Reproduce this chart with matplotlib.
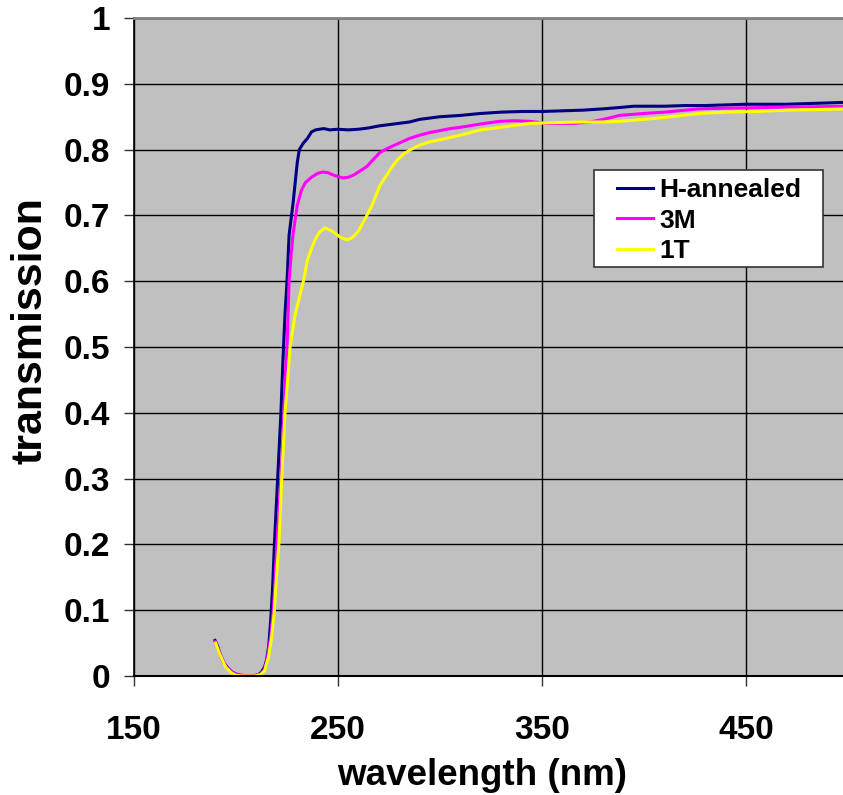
import matplotlib
matplotlib.use("Agg")
import matplotlib.pyplot as plt
from matplotlib.patches import Rectangle

plt.rcParams['font.family'] = ['Liberation Sans', 'DejaVu Sans']
plt.rcParams['font.weight'] = 'bold'

# transmission spectra (wavelength in nm)
h_wl = [189.7, 191, 192.5, 194, 196, 198, 200, 202, 205, 208, 211, 212.5, 214, 215,
        216, 217, 218, 218.8, 219.6, 220.4, 221.2, 222, 223, 224, 225, 226, 228, 230,
        231, 233, 235, 237, 239, 241, 243, 246, 250, 255, 260, 265, 270, 275, 280, 285,
        290, 295, 300, 310, 320, 330, 340, 350, 360, 370, 380, 388, 395, 400, 410, 420,
        430, 440, 450, 460, 470, 480, 490, 500]
h_tr = [0.054, 0.045, 0.030, 0.020, 0.012, 0.006, 0.003, 0.001, 0.0, 0.0, 0.002, 0.006,
        0.014, 0.025, 0.045, 0.085, 0.14, 0.20, 0.25, 0.30, 0.35, 0.40, 0.48, 0.55, 0.60,
        0.67, 0.72, 0.78, 0.80, 0.81, 0.817, 0.827, 0.830, 0.831, 0.832, 0.830, 0.831,
        0.830, 0.831, 0.833, 0.836, 0.838, 0.840, 0.842, 0.846, 0.848, 0.850, 0.852,
        0.855, 0.857, 0.858, 0.858, 0.859, 0.860, 0.862, 0.864, 0.866, 0.866, 0.866,
        0.867, 0.867, 0.868, 0.869, 0.869, 0.869, 0.870, 0.871, 0.872]

m_wl = [189.7, 192, 195, 198, 200, 203, 206, 209, 212, 214, 215.5, 217, 218.3, 219, 220,
        221, 222, 222.7, 223.5, 224, 225, 226, 227, 228, 230, 232, 234, 237, 240, 242.6,
        245, 248, 250, 252.5, 255, 258, 261, 264, 267, 270.6, 275, 280, 285, 290, 295,
        300, 305, 310, 320, 329, 336, 344, 352, 359, 366, 373.5, 380, 388, 400, 410, 427,
        440, 460, 480, 500]
m_tr = [0.052, 0.035, 0.015, 0.006, 0.003, 0.001, 0.0, 0.0, 0.003, 0.010, 0.030, 0.060,
        0.10, 0.14, 0.20, 0.25, 0.30, 0.34, 0.40, 0.45, 0.50, 0.60, 0.64, 0.673, 0.715,
        0.738, 0.750, 0.758, 0.764, 0.766, 0.765, 0.761, 0.759, 0.757, 0.758, 0.762,
        0.768, 0.774, 0.784, 0.796, 0.803, 0.810, 0.817, 0.822, 0.826, 0.829, 0.832,
        0.834, 0.839, 0.843, 0.844, 0.843, 0.840, 0.840, 0.840, 0.842, 0.846, 0.852,
        0.855, 0.857, 0.862, 0.863, 0.864, 0.865, 0.866]

t_wl = [190, 192, 195, 198, 200, 203, 206, 209, 212, 214, 216, 217.5, 218.8, 220, 221,
        222.4, 224, 225.3, 226.5, 228, 229, 231, 233, 235, 237, 238.7, 241, 243.6, 246,
        248.5, 251, 254.4, 257, 260, 262, 265, 267, 270.6, 273, 276, 279, 282, 285, 290,
        295, 300, 310, 319.6, 330, 344, 355, 368.6, 380, 388, 400, 413, 427, 440, 455,
        470, 485, 500]
t_tr = [0.050, 0.033, 0.013, 0.004, 0.001, 0.0, 0.0, 0.0, 0.002, 0.008, 0.030, 0.060,
        0.10, 0.16, 0.20, 0.30, 0.40, 0.45, 0.50, 0.53, 0.55, 0.575, 0.60, 0.632, 0.650,
        0.663, 0.675, 0.681, 0.678, 0.673, 0.667, 0.663, 0.666, 0.676, 0.688, 0.705,
        0.718, 0.746, 0.757, 0.772, 0.784, 0.793, 0.799, 0.807, 0.812, 0.815, 0.822,
        0.830, 0.834, 0.840, 0.841, 0.842, 0.842, 0.843, 0.846, 0.850, 0.855, 0.857,
        0.858, 0.860, 0.861, 0.862]

labels = ['H-annealed', '3M', '1T']
colors = ['#000080', '#FF00FF', '#FFFF00']
x_ticks = [150, 250, 350, 450]
y_ticks = [0, 0.1, 0.2, 0.3, 0.4, 0.5, 0.6, 0.7, 0.8, 0.9, 1]
y_tick_labels = ['0', '0.1', '0.2', '0.3', '0.4', '0.5', '0.6', '0.7', '0.8', '0.9', '1']

fig = plt.figure(figsize=(8.43, 7.95), dpi=100)
ax = fig.add_axes([0.159, 0.1497, 0.847, 0.8276])
ax.set_facecolor('#C0C0C0')

for wl, tr, lab, col in zip([h_wl, m_wl, t_wl], [h_tr, m_tr, t_tr], labels, colors):
    ax.plot(wl, tr, color=col, lw=2.2, label=lab)

ax.set_xlim(150, 500)
ax.set_ylim(0, 1)
ax.set_xticks(x_ticks)
ax.set_yticks(y_ticks)
ax.set_yticklabels(y_tick_labels)
ax.grid(True, color='black', lw=1.0)
ax.set_axisbelow(True)

ax.tick_params(axis='both', direction='out', length=7, width=1, labelsize=24, color='#333333')
ax.tick_params(axis='y', pad=10)
ax.tick_params(axis='x', pad=21)

ax.spines['top'].set_color('#808080')
ax.spines['top'].set_linewidth(2)
ax.spines['right'].set_visible(False)
ax.spines['left'].set_color('black')
ax.spines['bottom'].set_color('black')
ax.spines['left'].set_linewidth(1.2)
ax.spines['bottom'].set_linewidth(1.5)

# axis titles
fig.text(482 / 843, 10 / 795, 'wavelength (nm)', fontsize=26.5, fontweight='bold',
         ha='center', va='baseline')
fig.text(30 / 843, 1 - 331 / 795, 'transmission', fontsize=31, fontweight='bold',
         ha='center', va='center', rotation=90)

# legend box with entries inside
ax.add_patch(Rectangle((0.644, 0.622), 0.321, 0.147, transform=ax.transAxes,
                       facecolor='white', edgecolor='#333333', lw=1.2, zorder=4))
leg = ax.legend(loc='upper left', bbox_to_anchor=(0.676, 0.757), borderaxespad=0,
                fontsize=19, handlelength=1.36, handletextpad=0.27, labelspacing=0.25,
                borderpad=0, frameon=False)
leg.set_zorder(5)
for t in leg.get_texts():
    t.set_fontweight('bold')

fig.savefig('out.png', dpi=100)
